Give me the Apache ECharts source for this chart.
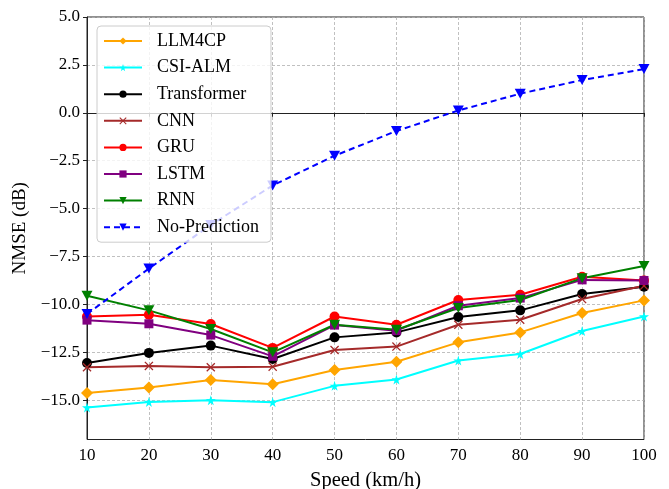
<!DOCTYPE html>
<html>
<head>
<meta charset="utf-8">
<script src="https://cdn.jsdelivr.net/npm/echarts@6/dist/echarts.min.js"></script>
<style>html,body{margin:0;padding:0;background:#fff}#c{width:669px;height:489px}</style>
</head>
<body>
<div id="c"></div>
<script>
const speeds = [10, 20, 30, 40, 50, 60, 70, 80, 90, 100];
const llm4cp = [-14.62, -14.34, -13.94, -14.17, -13.42, -12.99, -11.98, -11.46, -10.45, -9.79];
const csiAlm = [-15.38, -15.09, -15.0, -15.1, -14.25, -13.92, -12.93, -12.59, -11.39, -10.63];
const transformer = [-13.06, -12.53, -12.15, -12.85, -11.72, -11.46, -10.66, -10.31, -9.46, -9.08];
const cnn = [-13.28, -13.21, -13.28, -13.25, -12.38, -12.2, -11.06, -10.8, -9.72, -9.03];
const gru = [-10.63, -10.54, -11.02, -12.27, -10.63, -11.06, -9.77, -9.5, -8.56, -8.75];
const lstm = [-10.82, -11.01, -11.6, -12.71, -11.08, -11.37, -10.07, -9.67, -8.72, -8.75];
const rnn = [-9.55, -10.31, -11.28, -12.5, -11.06, -11.32, -10.19, -9.77, -8.63, -7.99];
const noPrediction = [-10.5, -8.13, -5.85, -3.79, -2.24, -0.95, 0.12, 1.0, 1.71, 2.28];
const yTicks = [-15, -12.5, -10, -7.5, -5, -2.5, 0, 2.5, 5];

const FONT = "'Liberation Serif', 'Times New Roman', serif";
const TRI = 'path://M0,0 L20,0 L10,17 Z';
const STAR = 'path://M50,0 L61,35 L98,35 L68,57 L79,91 L50,70 L21,91 L32,57 L2,35 L39,35 Z';
const XMARK = 'path://M0,2 L2,0 L10,8 L18,0 L20,2 L12,10 L20,18 L18,20 L10,12 L2,20 L0,18 L8,10 Z';

function mk(name, arr, color, symbol, size, dashed) {
  return {
    name: name, type: 'line',
    data: speeds.map((s, i) => [s, arr[i]]),
    symbol: symbol, symbolSize: size,
    showAllSymbol: true,
    lineStyle: { color: color, width: 2, type: dashed ? [6, 4] : 'solid' },
    itemStyle: { color: color },
    emphasis: { disabled: true },
    animation: false
  };
}

const chart = echarts.init(document.getElementById('c'), null, { renderer: 'canvas' });
chart.setOption({
  animation: false,
  backgroundColor: '#fff',
  textStyle: { fontFamily: FONT },
  grid: { left: 87, right: 25, top: 17, bottom: 49.5, outerBoundsMode: 'none', containLabel: false,
    show: true, borderColor: '#222', borderWidth: 1, backgroundColor: 'transparent' },
  legend: {
    orient: 'vertical', left: 97, top: 26,
    padding: [6, 12, 6, 6],
    itemWidth: 38, itemHeight: 9, itemGap: 8.6,
    backgroundColor: 'rgba(255,255,255,0.8)',
    borderColor: '#ccc', borderWidth: 1, borderRadius: 4,
    textStyle: { fontFamily: FONT, fontSize: 18, lineHeight: 18, color: '#000', padding: [0, 0, 0, 10] },
    data: ['LLM4CP', 'CSI-ALM', 'Transformer', 'CNN', 'GRU', 'LSTM', 'RNN', 'No-Prediction']
  },
  xAxis: {
    type: 'value', min: 10, max: 100, interval: 10,
    name: 'Speed (km/h)', nameLocation: 'middle', nameGap: 31,
    nameTextStyle: { fontFamily: FONT, fontSize: 20.5, color: '#000' },
    axisLine: { show: true, lineStyle: { color: '#222', width: 1 } },
    axisTick: { show: true, length: 4, inside: false, lineStyle: { color: '#222' } },
    axisLabel: { fontFamily: FONT, fontSize: 17, color: '#000', margin: 8 },
    splitLine: { show: true, lineStyle: { color: '#b0b0b0', width: 0.8, type: [3, 2] } }
  },
  yAxis: {
    type: 'value', min: -17.05, max: 5,
    name: 'NMSE (dB)', nameLocation: 'middle', nameGap: 52, nameRotate: 90,
    nameTextStyle: { fontFamily: FONT, fontSize: 19, color: '#000' },
    axisLine: { show: true, lineStyle: { color: '#222', width: 1 } },
    axisTick: { show: true, length: 4, inside: false, lineStyle: { color: '#222' }, customValues: yTicks },
    axisLabel: { fontFamily: FONT, fontSize: 17, color: '#000', margin: 7, customValues: yTicks,
      formatter: v => (v < 0 ? '\u2212' : '') + Math.abs(v).toFixed(1) },
    splitLine: { show: false }
  },
  series: [
    mk('LLM4CP', llm4cp, '#FFA500', 'diamond', 12, false),
    mk('CSI-ALM', csiAlm, '#00FFFF', STAR, 10, false),
    mk('Transformer', transformer, '#000000', 'circle', 10, false),
    mk('CNN', cnn, '#A52A2A', XMARK, 9, false),
    mk('GRU', gru, '#FF0000', 'circle', 10, false),
    mk('LSTM', lstm, '#800080', 'rect', 9, false),
    mk('RNN', rnn, '#008000', TRI, [11, 10], false),
    Object.assign(mk('No-Prediction', noPrediction, '#0000FF', TRI, [11, 10], true), {
      markLine: {
        silent: true, symbol: 'none', label: { show: false },
        lineStyle: { color: '#b0b0b0', width: 0.8, type: [3, 2] },
        z: 0,
        data: yTicks.map(v => ({ yAxis: v }))
      }
    })
  ]
});
</script>
</body>
</html>
